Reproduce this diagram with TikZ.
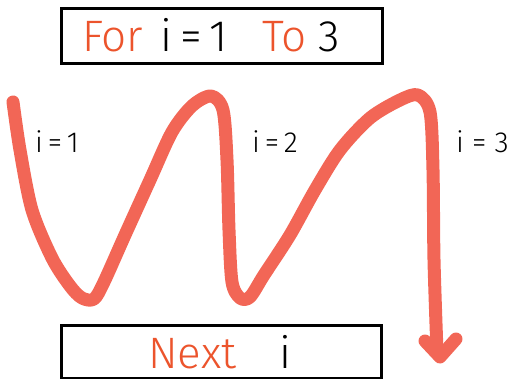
\documentclass[tikz,border=0pt]{standalone}
\usepackage{fontspec}
\setmainfont{Fira Sans Light}
\definecolor{penred}{RGB}{236,84,44}
\definecolor{marker}{RGB}{242,102,86}
\tikzset{
  frame/.style={draw=black, line width=2.6pt, fill=white},
  big/.style={inner sep=0pt, anchor=base west, font=\fontsize{44}{44}\selectfont},
  small/.style={inner sep=0pt, anchor=base west, font=\fontsize{29}{29}\selectfont},
  wave/.style={draw=marker, line width=13pt, line cap=round, line join=round}
}
\begin{document}
\begin{tikzpicture}[x=1pt,y=-1pt]
\useasboundingbox (0,0) rectangle (529,379);
% boxes
\node[frame, minimum width=321pt, minimum height=55pt, anchor=north west] (forbox) at (60,7) {};
\node[frame, minimum width=320pt, minimum height=53pt, anchor=north west] (nextbox) at (60,324) {};
% top text
\node[big, text=penred] (for) at (82,52) {For};
\node[big] (fi) at (160,52) {i};
\node[big] (feq) at (180,52) {=};
\node[big] (fone) at (209,52) {1};
\node[big, text=penred] (to) at (262,52) {To};
\node[big] (fthree) at (318,52) {3};
% bottom text
\node[big, text=penred] (next) at (148,368) {Next};
\node[big] (ni) at (279,368) {i};
% wave
\draw[wave] plot[smooth, tension=0.5] coordinates {
 (13,102) (20,150) (32,210) (52,258) (70,286) (82,298) (94,299) (104,282)
 (125,235) (150,180) (172,132) (192,106) (211,96) (223,110)
 (227,160) (229,230) (232,282) (240,298) (250,297) (264,275)
 (290,235) (315,190) (340,150) (370,118) (400,100)
 (418,95) (430,112) (433,170) (434,260) (437,352)};
\coordinate (tip) at (440,357);
\coordinate (hl) at (425,341);
\coordinate (hr) at (456,339);
\draw[wave] (hl) -- (tip) -- (hr);
% labels
\node[small] (l1) at (35,153) {i\,=\,1};
\node[small] (l2) at (252,153) {i\,=\,2};
\node[small] (l3) at (456,153) {i = 3};
\end{tikzpicture}
\end{document}
